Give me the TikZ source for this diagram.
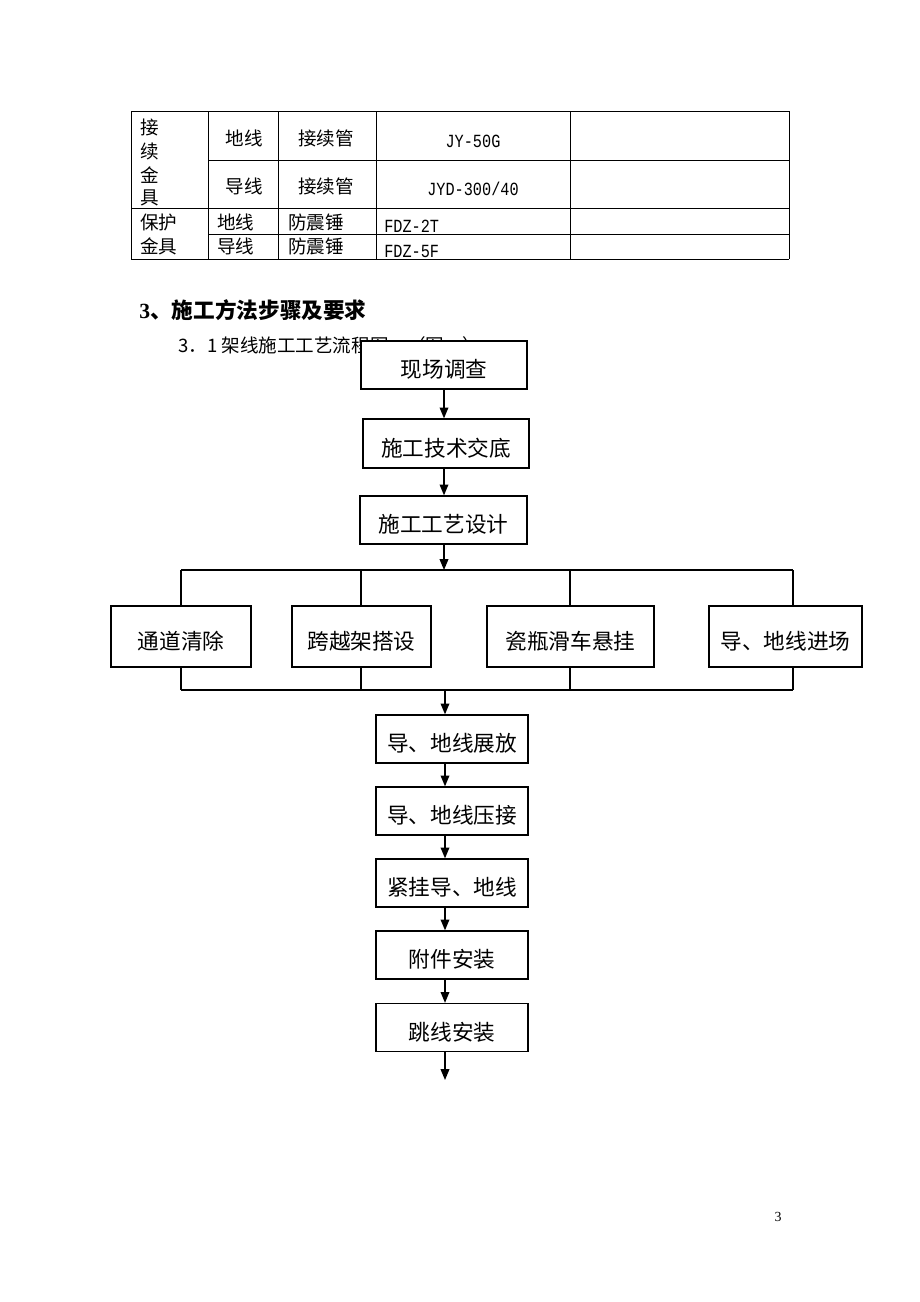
\documentclass[tikz,border=0pt]{standalone}
\usepackage{fontspec}
\setmainfont{Liberation Serif}
\newfontfamily\cjk{Noto Sans CJK SC}
\newfontfamily\latm[FakeStretch=0.82]{Liberation Mono}
\usetikzlibrary{arrows.meta}
\tikzset{
  flowbox/.style 2 args={draw, line width=0.85pt, fill=white, inner sep=0pt,
     minimum width=#1*0.6467pt, minimum height=#2*0.6467pt,
     text height=16.5pt, text depth=0pt,
     font=\cjk\fontsize{14pt}{16pt}\selectfont},
  conn/.style={line width=0.85pt},
  arr/.style={line width=0.85pt, -{Triangle[length=7pt,width=5.6pt]}},
  tline/.style={line width=0.6pt},
  ttext/.style={inner sep=0pt, font=\cjk\fontsize{12pt}{14pt}\selectfont},
  tlat/.style={inner sep=0pt, font=\latm\fontsize{12pt}{14pt}\selectfont},
}
\begin{document}
\begin{tikzpicture}[x=0.6467pt,y=-0.6467pt]
\useasboundingbox (0,0) rectangle (920,1302);

% ---------- table ----------
\draw[tline] (131,111) -- (789,111);
\draw[tline] (208,160) -- (789,160);
\draw[tline] (131,208) -- (789,208);
\draw[tline] (208,234) -- (789,234);
\draw[tline] (131,259) -- (789,259);
\foreach \x in {131,208,278,376,570,789} \draw[tline] (\x,111) -- (\x,259);

\node[ttext, anchor=west] (t11) at (140,127) {接};
\node[ttext, anchor=west] (t12) at (140,151) {续};
\node[ttext, anchor=west] (t13) at (140,175) {金};
\node[ttext, anchor=west] (t14) at (140,198) {具};
\node[ttext] (t21) at (244,138) {地线};
\node[ttext] (t31) at (326,138) {接续管};
\node[tlat] (t41) at (473,141) {JY-50G};
\node[ttext] (t22) at (244,186) {导线};
\node[ttext] (t32) at (326,186) {接续管};
\node[tlat] (t42) at (473,189) {JYD-300/40};
\node[ttext, anchor=west] (t15) at (140,222) {保护};
\node[ttext, anchor=west] (t16) at (140,246) {金具};
\node[ttext, anchor=west] (t23) at (217,222) {地线};
\node[ttext, anchor=west] (t24) at (217,246) {导线};
\node[ttext, anchor=west] (t33) at (288,222) {防震锤};
\node[ttext, anchor=west] (t34) at (288,246) {防震锤};
\node[tlat, anchor=west] (t43) at (384,226) {FDZ-2T};
\node[tlat, anchor=west] (t44) at (384,251) {FDZ-5F};

% ---------- headings ----------
\node[inner sep=0pt, anchor=west, font=\bfseries\fontsize{14pt}{16pt}\selectfont] (h1) at (139,310) {3\cjk 、施工方法步骤及要求};
\node[ttext, anchor=west] (h2) at (178,345) {3．1 架线施工工艺流程图　（图一）};

% ---------- flow chart ----------
\node[flowbox={166}{48}] (b1) at (444,365) {现场调查};
\node[flowbox={166}{49}] (b2) at (446,443.5) {施工技术交底};
\node[flowbox={167}{48}] (b3) at (443.5,520) {施工工艺设计};

\node[flowbox={140}{61}] (pa) at (181,636.5) {通道清除};
\node[flowbox={139}{61}] (pb) at (361.5,636.5) {跨越架搭设};
\node[flowbox={167}{61}] (pc) at (570.5,636.5) {瓷瓶滑车悬挂};
\node[flowbox={153}{61}] (pd) at (785.5,636.5) {导、地线进场};

\node[flowbox={152}{48}] (s1) at (452,739) {导、地线展放};
\node[flowbox={152}{48}] (s2) at (452,811) {导、地线压接};
\node[flowbox={152}{48}] (s3) at (452,883) {紧挂导、地线};
\node[flowbox={152}{48}] (s4) at (452,955) {附件安装};
\node[flowbox={152}{48}] (s5) at (452,1027.5) {跳线安装};

\coordinate (ax) at (444,0);
\coordinate (bx) at (445,0);
\coordinate (tl) at (181,570);
\coordinate (tr) at (793,570);
\coordinate (bl) at (181,690);
\coordinate (br) at (793,690);
\coordinate (bm) at (445,690);
\coordinate (tb) at (361,570);
\coordinate (tc) at (570,570);
\coordinate (endp) at (445,1080);

\draw[arr] (b1.south -| ax) -- (b2.north -| ax);
\draw[arr] (b2.south -| ax) -- (b3.north -| ax);
\draw[arr] (b3.south -| ax) -- (ax |- tl);

\draw[conn] (tl) -- (tr);
\draw[conn] (tl) -- (tl |- pa.north);
\draw[conn] (tb) -- (tb |- pb.north);
\draw[conn] (tc) -- (tc |- pc.north);
\draw[conn] (tr) -- (tr |- pd.north);

\draw[conn] (bl) -- (br);
\draw[conn] (bl |- pa.south) -- (bl);
\draw[conn] (tb |- pb.south) -- (tb |- bl);
\draw[conn] (tc |- pc.south) -- (tc |- bl);
\draw[conn] (br |- pd.south) -- (br);

\draw[arr] (bm) -- (bm |- s1.north);
\draw[arr] (s1.south -| bx) -- (s2.north -| bx);
\draw[arr] (s2.south -| bx) -- (s3.north -| bx);
\draw[arr] (s3.south -| bx) -- (s4.north -| bx);
\draw[arr] (s4.south -| bx) -- (s5.north -| bx);
\draw[arr] (s5.south -| bx) -- (endp);

% page number
\node[inner sep=0pt, font=\fontsize{9pt}{10pt}\selectfont] (pg) at (778,1217) {3};
\end{tikzpicture}
\end{document}
